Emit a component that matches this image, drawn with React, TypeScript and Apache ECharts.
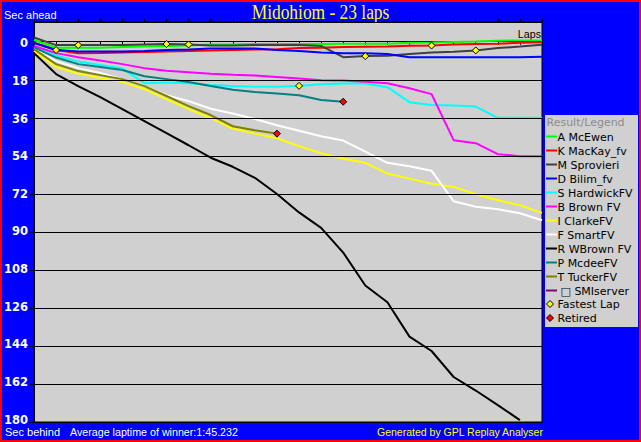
import React, { useEffect, useRef } from "react";
import * as echarts from "echarts";

const TITLE = "Midohiom - 23 laps";
const Y_TICKS = [0, 18, 36, 54, 72, 90, 108, 126, 144, 162, 180];
const TOTAL_LAPS = 23;

// gap to the winner's average pace, seconds (positive = behind), lap 0..23
const aMcEwen = [-0.8, 2.8, 2.8, 2.8, 2.5, 2.3, 2.0, 1.8, 1.3, 1.3, 1.1, 1.1, 1.1, 1.1, 0.9, 0.9, 0.9, 0.5, 0.4, 0.1, -0.1, -0.5, -0.6, -0.6];
const kMacKay = [0.4, 3.9, 5.4, 5.3, 5.1, 4.9, 4.6, 4.4, 4.2, 3.9, 3.7, 3.5, 3.0, 2.8, 2.5, 2.4, 2.3, 1.9, 1.8, 1.3, 1.1, 0.9, 0.5, 0.3];
const mSprovieri = [-2.0, 1.6, 1.6, 1.6, 1.6, 1.3, 1.1, 1.3, 1.8, 1.8, 1.6, 1.6, 1.6, 2.0, 7.3, 6.8, 6.6, 5.8, 5.1, 4.7, 4.1, 3.0, 2.3, 1.4];
const dBilim = [0.6, 3.9, 4.6, 4.6, 4.6, 4.4, 3.9, 3.7, 3.2, 3.2, 3.2, 3.9, 4.4, 5.1, 5.4, 5.5, 5.8, 7.3, 7.4, 7.4, 7.4, 7.4, 7.3, 7.1];
const sHardwick = [2.5, 6.5, 9.4, 11.0, 12.7, 19.6, 19.3, 19.6, 20.5, 21.0, 21.3, 21.3, 20.9, 20.1, 19.8, 19.8, 21.5, 28.6, 30.0, 30.2, 30.7, 36.0, 36.0, 36.0];
const bBrown = [2.0, 5.4, 7.3, 8.9, 10.6, 12.5, 13.7, 14.4, 15.1, 15.6, 16.0, 16.7, 17.4, 18.2, 18.4, 18.9, 19.7, 22.0, 24.8, 46.6, 48.0, 53.2, 54.2, 54.2];
const iClarke = [4.2, 12.0, 15.1, 17.2, 19.1, 22.4, 27.2, 31.9, 36.2, 41.1, 43.5, 45.7, 49.4, 52.8, 55.4, 57.3, 62.4, 64.8, 67.2, 68.7, 72.2, 75.0, 77.4, 81.0];
const fSmart = [3.2, 9.2, 12.5, 14.8, 17.7, 21.0, 25.3, 28.1, 31.7, 34.0, 36.6, 39.5, 42.1, 44.7, 46.8, 52.0, 57.3, 58.9, 61.1, 75.5, 78.1, 79.3, 81.2, 84.5];
const rWBrown = [5.4, 15.3, 21.0, 26.2, 31.9, 37.6, 43.3, 49.0, 54.9, 59.2, 64.4, 72.1, 80.8, 88.1, 99.8, 115.4, 123.3, 139.6, 146.4, 158.7, 165.1, 172.0, 179.1];
const pMcdee = [2.7, 7.5, 10.6, 12.0, 13.4, 16.3, 17.7, 19.1, 21.0, 22.7, 23.8, 24.5, 25.3, 27.6, 28.4];
const tTucker = [3.5, 10.6, 13.9, 15.8, 17.7, 21.0, 25.7, 30.5, 34.7, 40.0, 41.9, 43.5];
const smiServer: number[] = [];

const DRIVER_NAMES = ["A McEwen", "K MacKay_fv", "M Sprovieri", "D Bilim_fv", "S HardwickFV", "B Brown FV", "I ClarkeFV", "F SmartFV", "R WBrown FV", "P McdeeFV", "T TuckerFV", "\u25A1 SMIserver"];
const DRIVER_COLORS = ["#00ff00", "#ff0000", "#404040", "#0000ff", "#00ffff", "#ff00ff", "#ffff00", "#ffffff", "#000000", "#008080", "#808000", "#800080"];
const DRIVER_DATA = [aMcEwen, kMacKay, mSprovieri, dBilim, sHardwick, bBrown, iClarke, fSmart, rWBrown, pMcdee, tTucker, smiServer];

// [lap, driver index] where a new fastest lap was set
const FASTEST_LAPS: [number, number][] = [[1, 3], [2, 2], [6, 2], [7, 2], [12, 4], [15, 2], [18, 1], [20, 2]];
const RETIRED = [9, 10];

const AVG_TEXT = "Average laptime of winner:1:45.232";
const GEN_TEXT = "Generated by GPL Replay Analyser";

export default function App() {
  const ref = useRef<HTMLDivElement>(null);
  useEffect(() => {
    if (!ref.current) return;
    const chart = echarts.init(ref.current, null, { renderer: "svg" });

    const lineSeries: any[] = DRIVER_DATA.map((d, k) => ({
      type: "line",
      name: DRIVER_NAMES[k],
      xAxisIndex: 0,
      data: d.map((v, i) => [i, v]),
      showSymbol: false,
      symbol: "none",
      silent: true,
      z: 2,
      lineStyle: { width: 2, color: DRIVER_COLORS[k] },
      itemStyle: { color: DRIVER_COLORS[k] },
    })).filter((s) => s.data.length > 0);

    const gridSeries = {
      type: "line",
      name: "grid",
      data: [],
      silent: true,
      z: 1,
      markLine: {
        silent: true,
        symbol: ["none", "none"],
        label: { show: false },
        lineStyle: { color: "#000", width: 1, type: "solid" },
        data: Y_TICKS.filter((v) => v > 0).map((v) => ({ yAxis: v })),
      },
    };

    const fastestSeries = {
      type: "scatter",
      name: "Fastest Lap",
      symbol: "diamond",
      symbolSize: 7,
      silent: true,
      z: 5,
      itemStyle: { color: "#ffff00", borderColor: "#000", borderWidth: 1, opacity: 1 },
      data: FASTEST_LAPS.map(([lap, k]) => [lap, DRIVER_DATA[k][lap]]),
    };
    const retiredSeries = {
      type: "scatter",
      name: "Retired",
      symbol: "diamond",
      symbolSize: 7,
      silent: true,
      z: 5,
      itemStyle: { color: "#ff0000", borderColor: "#000", borderWidth: 1, opacity: 1 },
      data: RETIRED.map((k) => [DRIVER_DATA[k].length - 1, DRIVER_DATA[k][DRIVER_DATA[k].length - 1]]),
    };

    // per-label vertical nudges (the original's labels drift slightly against the grid)
    const rich: any = {};
    Y_TICKS.forEach((v, i) => {
      const off = 1.6 - 0.41 * i;
      rich["o" + i] = {
        color: "#fff", fontWeight: "bold", fontFamily: "DejaVu Sans", fontSize: 11.5,
        padding: off >= 0 ? [2 * off, 0, 0, 0] : [0, 0, -2 * off, 0],
      };
    });

    // legend graphics
    const legendX = 546;
    const rowY0 = 137;
    const rowH = 14;
    const legendEls: any[] = [
      { type: "rect", shape: { x: 545, y: 115, width: 93, height: 212 }, style: { fill: "#d0d0d0" } },
      { type: "text", x: 546.5, y: 122, style: { text: "Result/Legend", fill: "#8c8c8c", fontSize: 11, fontFamily: "DejaVu Sans", textVerticalAlign: "middle" } },
    ];
    DRIVER_NAMES.forEach((n, k) => {
      const cy = rowY0 + k * rowH;
      legendEls.push({ type: "line", shape: { x1: legendX, y1: cy - 0.5, x2: legendX + 11, y2: cy - 0.5 }, style: { stroke: DRIVER_COLORS[k], lineWidth: 2 } });
      legendEls.push({ type: "text", x: k === 11 ? 560.5 : 557.5, y: cy, style: { text: n, fill: "#000", fontSize: 11, fontFamily: "DejaVu Sans", textVerticalAlign: "middle" } });
    });
    [["Fastest Lap", "#ffff00"], ["Retired", "#ff0000"]].forEach(([n, c], j) => {
      const cy = rowY0 + (12 + j) * rowH - 1;
      legendEls.push({ type: "polygon", shape: { points: [[550, cy - 3.5], [553.5, cy], [550, cy + 3.5], [546.5, cy]] }, style: { fill: c, stroke: "#000", lineWidth: 1 } });
      legendEls.push({ type: "text", x: 557.5, y: cy, style: { text: n, fill: "#000", fontSize: 11, fontFamily: "DejaVu Sans", textVerticalAlign: "middle" } });
    });

    const option: any = {
      animation: false,
      backgroundColor: "#0000ff",
      grid: { left: 34, top: 22, width: 508, height: 400, show: true, backgroundColor: "#d0d0d0", borderColor: "#000", borderWidth: 1 },
      xAxis: [
        {
          type: "value", min: 0, max: TOTAL_LAPS, interval: 1, position: "bottom",
          axisLine: { show: true, onZero: true, lineStyle: { color: "#000", width: 1 } },
          axisTick: { show: true, length: 3, inside: false, lineStyle: { color: "#000", width: 1 } },
          axisLabel: { show: false }, splitLine: { show: false },
        },
        {
          type: "value", min: 0, max: TOTAL_LAPS, interval: 1, position: "top",
          axisLine: { show: true, onZero: true, lineStyle: { color: "#000", width: 1 } },
          axisTick: { show: true, length: 3, inside: false, lineStyle: { color: "#000", width: 1 } },
          axisLabel: { show: false }, splitLine: { show: false },
        },
      ],
      yAxis: {
        type: "value", inverse: true, min: -9.34, max: 180,
        axisLine: { show: true, onZero: false, lineStyle: { color: "#000", width: 1 } },
        axisTick: { show: true, length: 4, customValues: Y_TICKS, lineStyle: { color: "#000", width: 1 } },
        axisLabel: {
          customValues: Y_TICKS, color: "#fff", fontWeight: "bold", fontFamily: "DejaVu Sans", fontSize: 11.5, margin: 6,
          formatter: (v: number) => {
            const i = Y_TICKS.indexOf(v);
            return i >= 0 ? "{o" + i + "|" + v + "}" : String(v);
          },
          rich,
        },
        splitLine: { show: false },
      },
      series: [gridSeries, ...lineSeries, fastestSeries, retiredSeries],
      graphic: [
        { type: "rect", z: 100, shape: { x: 1, y: 1, width: 639, height: 440 }, style: { fill: "none", stroke: "#ff0000", lineWidth: 2 } },
        { type: "group", x: 320.5, y: 12, scaleX: 0.87, children: [
          { type: "text", x: 0, y: 0, style: { text: TITLE, fill: "#ffff00", fontSize: 20, fontFamily: "Liberation Serif", textAlign: "center", textVerticalAlign: "middle" } },
        ] },
        { type: "text", x: 4, y: 15, style: { text: "Sec ahead", fill: "#fff", fontSize: 11, fontFamily: "Liberation Sans", textVerticalAlign: "middle" } },
        { type: "text", x: 541, y: 33.5, style: { text: "Laps", fill: "#000", fontSize: 10.7, fontFamily: "Liberation Sans", textAlign: "right", textVerticalAlign: "middle" } },
        { type: "text", x: 5, y: 432, style: { text: "Sec behind", fill: "#fff", fontSize: 11, fontFamily: "Liberation Sans", textVerticalAlign: "middle" } },
        { type: "text", x: 70, y: 432, style: { text: AVG_TEXT, fill: "#fff", fontSize: 10.7, fontFamily: "Liberation Sans", textVerticalAlign: "middle" } },
        { type: "text", x: 377, y: 432, style: { text: GEN_TEXT, fill: "#ffff00", fontSize: 10.5, fontFamily: "Liberation Sans", textVerticalAlign: "middle" } },
        ...legendEls,
      ],
    };
    chart.setOption(option);
    return () => chart.dispose();
  }, []);
  return <div ref={ref} style={{ position: "fixed", left: 0, top: 0, width: 641, height: 442 }} />;
}
